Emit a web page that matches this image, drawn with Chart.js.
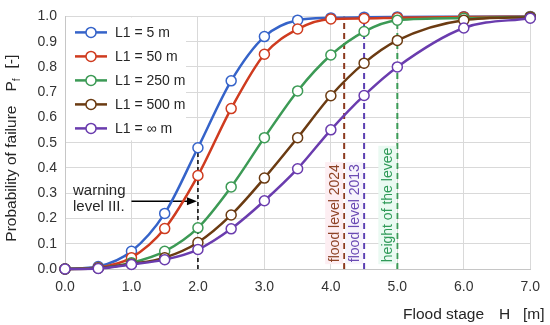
<!DOCTYPE html>
<html>
<head>
<meta charset="utf-8">
<script src="https://cdn.jsdelivr.net/npm/chart.js@4/dist/chart.umd.min.js"></script>
<style>
    html, body { margin: 0; padding: 0; background: #fff; }
    #wrap { width: 550px; height: 325px; position: relative; }
</style>
</head>
<body>
<div id="wrap"><canvas id="chart"></canvas></div>
<script>
// flood stage H [m]
const stages = [0, 0.5, 1.0, 1.5, 2.0, 2.5, 3.0, 3.5, 4.0, 4.5, 5.0, 6.0, 7.0];

// probability of failure for each L1
const pf5 = [0, 0.010, 0.070, 0.220, 0.480, 0.745, 0.920, 0.985, 0.994, 0.997, 0.998, 0.999, 1.0];
const pf50 = [0, 0.006, 0.045, 0.160, 0.370, 0.635, 0.850, 0.950, 0.990, 0.992, 0.995, 0.998, 0.999];
const pf250 = [0, 0.004, 0.025, 0.070, 0.163, 0.325, 0.520, 0.705, 0.847, 0.940, 0.985, 0.993, 0.998];
const pf500 = [0, 0.003, 0.020, 0.045, 0.105, 0.214, 0.360, 0.520, 0.686, 0.815, 0.905, 0.985, 0.997];
const pfInf = [0, 0.002, 0.018, 0.037, 0.077, 0.159, 0.270, 0.397, 0.551, 0.687, 0.800, 0.954, 0.993];

const seriesNames = ['L1 = 5 m', 'L1 = 50 m', 'L1 = 250 m', 'L1 = 500 m', 'L1 = \u221e m'];
const seriesColors = ['#3563c9', '#cf3b1f', '#3c9a55', '#6b3b12', '#6a3cae'];

const xTicks = [0, 1, 2, 3, 4, 5, 6, 7];

// marked levels
const warningLevel = 2.0;
const markLevels = [4.2, 4.5, 5.0];
const markNames = ['flood level 2024', 'flood level 2013', 'height of the levee'];
const markColors = ['#8c3a1e', '#5b3fb2', '#3a9a55'];
const markTextColors = ['#8e4326', '#6a4ab3', '#2f9a58'];
const markBacks = ['#fdeef2', '#f7f4fc', '#eafaf2'];

const FONT = "'Liberation Sans', Arial, sans-serif";

function toPoints(vals) {
    return stages.map((h, i) => ({ x: h, y: vals[i] }));
}

const allValues = [pf5, pf50, pf250, pf500, pfInf];

const decorPlugin = {
    id: 'decor',
    beforeDatasetsDraw(chart) {
        const ctx = chart.ctx;
        const xs = chart.scales.x;
        const ys = chart.scales.y;
        const y0 = ys.getPixelForValue(0);

        ctx.save();

        // warning level line (up to the L1 = 5 m curve)
        const wx = xs.getPixelForValue(warningLevel);
        const wTop = ys.getPixelForValue(pf5[stages.indexOf(warningLevel)]);
        ctx.strokeStyle = '#000';
        ctx.lineWidth = 1.5;
        ctx.setLineDash([4, 3]);
        ctx.beginPath();
        ctx.moveTo(wx, y0);
        ctx.lineTo(wx, wTop);
        ctx.stroke();

        // flood level lines and rotated labels
        markLevels.forEach((lv, i) => {
            const px = xs.getPixelForValue(lv);
            ctx.strokeStyle = markColors[i];
            ctx.lineWidth = 2;
            ctx.setLineDash([6, 4]);
            ctx.beginPath();
            ctx.moveTo(px, y0);
            ctx.lineTo(px, ys.getPixelForValue(1.0));
            ctx.stroke();

            ctx.setLineDash([]);
            ctx.save();
            ctx.translate(px - 10, ys.getPixelForValue(0.027));
            ctx.rotate(-Math.PI / 2);
            ctx.font = '14px ' + FONT;
            const w = ctx.measureText(markNames[i]).width;
            ctx.fillStyle = markBacks[i];
            ctx.fillRect(-2, -9, w + 4, 18);
            ctx.fillStyle = markTextColors[i];
            ctx.textAlign = 'left';
            ctx.textBaseline = 'middle';
            ctx.fillText(markNames[i], 0, 1);
            ctx.restore();
        });

        // warning text and arrow
        ctx.setLineDash([]);
        ctx.fillStyle = '#262626';
        ctx.font = '15px ' + FONT;
        ctx.textAlign = 'left';
        ctx.textBaseline = 'middle';
        const tx = xs.getPixelForValue(0.12);
        ctx.fillText('warning', tx, ys.getPixelForValue(0.308));
        ctx.fillText('level III.', tx, ys.getPixelForValue(0.246));

        const ay = ys.getPixelForValue(0.268);
        const ax0 = xs.getPixelForValue(1.0);
        ctx.strokeStyle = '#000';
        ctx.lineWidth = 1.5;
        ctx.beginPath();
        ctx.moveTo(ax0, ay);
        ctx.lineTo(wx - 8, ay);
        ctx.stroke();
        ctx.fillStyle = '#000';
        ctx.beginPath();
        ctx.moveTo(wx - 1, ay);
        ctx.lineTo(wx - 11, ay - 4);
        ctx.lineTo(wx - 11, ay + 4);
        ctx.closePath();
        ctx.fill();

        // legend inside the plot
        const lx = chart.chartArea.left + 1;
        const ly = chart.chartArea.top + 1;
        ctx.fillStyle = '#fff';
        ctx.fillRect(lx, ly, 120, 123);
        ctx.font = '14px ' + FONT;
        seriesNames.forEach((name, i) => {
            const ry = ly + 15 + i * 24;
            ctx.strokeStyle = seriesColors[i];
            ctx.lineWidth = 2.5;
            ctx.beginPath();
            ctx.moveTo(lx + 9, ry);
            ctx.lineTo(lx + 41, ry);
            ctx.stroke();
            ctx.fillStyle = '#fff';
            ctx.lineWidth = 1.5;
            ctx.beginPath();
            ctx.arc(lx + 25, ry, 5, 0, Math.PI * 2);
            ctx.fill();
            ctx.stroke();
            ctx.fillStyle = '#262626';
            ctx.fillText(name, lx + 49, ry + 1);
        });

        ctx.restore();
    },
    afterDraw(chart) {
        const ctx = chart.ctx;
        const area = chart.chartArea;
        ctx.save();
        ctx.fillStyle = '#262626';
        ctx.textBaseline = 'alphabetic';
        ctx.textAlign = 'left';

        // x axis title
        ctx.font = '15.5px ' + FONT;
        const by = 319;
        ctx.fillText('Flood stage', 403, by);
        ctx.fillText('H', 499, by);
        ctx.fillText('[m]', 523, by);

        // y axis title, rotated
        ctx.translate(16, (area.top + area.bottom) / 2 + 99);
        ctx.rotate(-Math.PI / 2);
        let cx = 0;
        ctx.fillText('Probability of failure', cx, 0);
        cx += ctx.measureText('Probability of failure').width + 14;
        ctx.fillText('P', cx, 0);
        cx += ctx.measureText('P').width;
        ctx.font = '10px ' + FONT;
        ctx.fillText('f', cx, 4);
        cx += ctx.measureText('f').width + 10;
        ctx.font = '15.5px ' + FONT;
        ctx.fillText('[-]', cx, 0);
        ctx.restore();
    }
};

new Chart(document.getElementById('chart'), {
    type: 'line',
    data: {
        datasets: allValues.map((vals, i) => ({
            label: seriesNames[i],
            data: toPoints(vals),
            borderColor: seriesColors[i],
            backgroundColor: '#fff',
            borderWidth: 2.5,
            pointRadius: 5,
            pointBorderWidth: 1.5,
            pointBackgroundColor: '#fff',
            pointBorderColor: seriesColors[i],
            cubicInterpolationMode: 'monotone',
            fill: false,
            clip: false,
            order: allValues.length - i
        }))
    },
    options: {
        responsive: true,
        maintainAspectRatio: false,
        animation: false,
        layout: { padding: { top: 9, right: 13, left: 0, bottom: 0 } },
        plugins: {
            legend: { display: false },
            tooltip: { enabled: false }
        },
        scales: {
            x: {
                type: 'linear',
                min: 0,
                max: 7,
                afterBuildTicks: (scale) => {
                    scale.ticks = xTicks.map(v => ({ value: v }));
                },
                afterFit: (scale) => { scale.height = 56; },
                grid: { color: '#d9d9d9', drawTicks: false },
                border: { color: '#c6c6c6' },
                ticks: {
                    padding: 10,
                    color: '#333',
                    font: { family: FONT, size: 14 },
                    callback: (v) => Number(v).toFixed(1)
                }
            },
            y: {
                min: 0,
                max: 1,
                afterFit: (scale) => { scale.width = 65; },
                grid: { color: '#d9d9d9', drawTicks: false },
                border: { color: '#c6c6c6' },
                ticks: {
                    stepSize: 0.1,
                    padding: 8,
                    color: '#333',
                    font: { family: FONT, size: 14 },
                    callback: (v) => Number(v).toFixed(1)
                }
            }
        }
    },
    plugins: [decorPlugin]
});
</script>
</body>
</html>
